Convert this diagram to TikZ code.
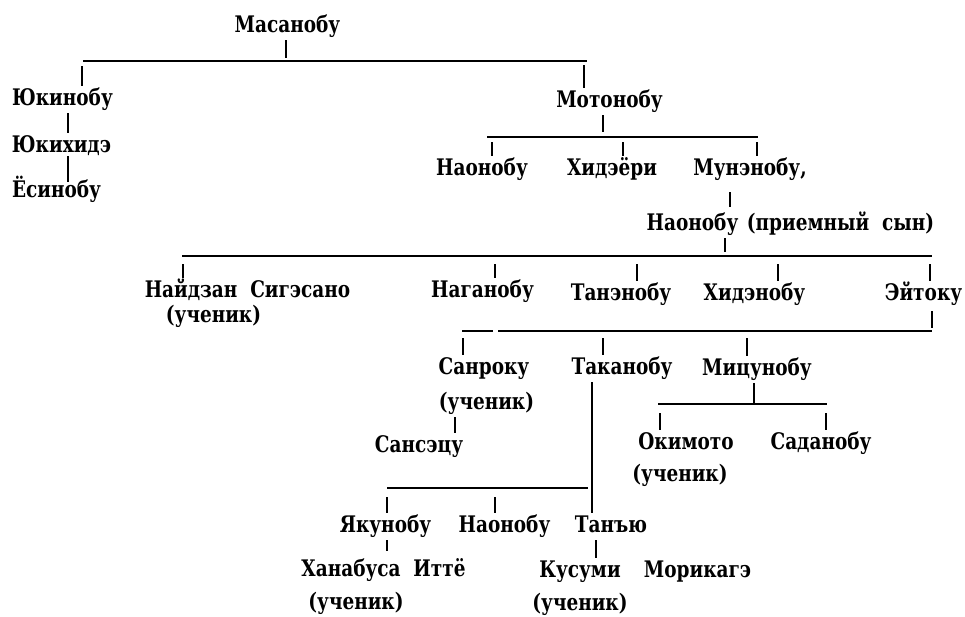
\documentclass[tikz,border=0pt]{standalone}
\usepackage{fontspec}
\setmainfont{DejaVuSerifCondensed.ttf}[BoldFont=DejaVuSerifCondensed-Bold.ttf, WordSpace=2, FakeStretch=0.9]
\begin{document}
\begin{tikzpicture}[x=1pt,y=-1pt,
  nm/.style={anchor=base, font=\bfseries\fontsize{22.8}{26}\selectfont, inner xsep=0pt, inner ysep=3pt, text height=16pt, text depth=5pt},
  ln/.style={line width=1.6pt},
  tk/.style={line width=1.3pt},
  dn/.style={tk, shorten <=7pt}]
\useasboundingbox (0,0) rectangle (965,616);
% names
\node[nm] (ma) at (287.5,32) {Масанобу};
\node[nm] (yuk) at (62.5,105) {Юкинобу};
\node[nm] (yukh) at (61.5,152) {Юкихидэ};
\node[nm] (yos) at (56.5,197) {Ёсинобу};
\node[nm] (mot) at (609.5,107) {Мотонобу};
\node[nm] (naoA) at (482,175) {Наонобу};
\node[nm] (hid) at (612,175) {Хидэёри};
\node[nm] (mun) at (750,175) {Мунэнобу,};
\node[nm] (naoB) at (692.5,230) {Наонобу};
\node[nm] (pri) at (840.5,230) {(приемный сын)};
\node[nm] (nai) at (247.5,297) {Найдзан Сигэсано};
\node[nm] (naiu) at (213.5,322) {(ученик)};
\node[nm] (nag) at (482.5,297) {Наганобу};
\node[nm] (tan) at (621,300) {Танэнобу};
\node[nm] (hidn) at (754.5,300) {Хидэнобу};
\node[nm] (eit) at (923.5,300) {Эйтоку};
\node[nm] (san) at (484,374) {Санроку};
\node[nm] (sanu) at (486.5,409) {(ученик)};
\node[nm] (sans) at (419,452) {Сансэцу};
\node[nm] (tak) at (622,374) {Таканобу};
\node[nm] (mic) at (757,375) {Мицунобу};
\node[nm] (oki) at (686,449) {Окимото};
\node[nm] (okiu) at (680,481) {(ученик)};
\node[nm] (sad) at (821,449) {Саданобу};
\node[nm] (yak) at (385.5,532) {Якунобу};
\node[nm] (naoC) at (504.5,532) {Наонобу};
\node[nm] (tany) at (611,532) {Танъю};
\node[nm] (han) at (383.5,576) {Ханабуса Иттё};
\node[nm] (hanu) at (356,609) {(ученик)};
\node[nm] (kus) at (580,577) {Кусуми};
\node[nm] (mor) at (697.5,577) {Морикагэ};
\node[nm] (kusu) at (580,610) {(ученик)};
% bars
\coordinate (b1l) at (83,61);   \coordinate (b1r) at (587,61);
\coordinate (b2l) at (487,137); \coordinate (b2r) at (758,137);
\coordinate (b3l) at (182,256); \coordinate (b3r) at (932,256);
\coordinate (b4l) at (462,331); \coordinate (b4a) at (493,331);
\coordinate (b4b) at (498,331); \coordinate (b4r) at (932,331);
\coordinate (b5l) at (658,404); \coordinate (b5r) at (827,404);
\coordinate (b6l) at (387,488); \coordinate (b6r) at (588,488);
\draw[ln] (b1l) -- (b1r);
\draw[ln] (b2l) -- (b2r);
\draw[ln] (b3l) -- (b3r);
\draw[ln] (b4l) -- (b4a);
\draw[ln] (b4b) -- (b4r);
\draw[ln] (b5l) -- (b5r);
\draw[ln] (b6l) -- (b6r);
% tick positions
\coordinate (t1) at (286,0);
\coordinate (t2) at (82,0);
\coordinate (t3) at (584,0);
\coordinate (t4) at (68,0);
\coordinate (t6) at (603,0);
\coordinate (t7) at (492,0);
\coordinate (t8) at (623,0);
\coordinate (t9) at (757,0);
\coordinate (t10) at (730,0);
\coordinate (t11) at (725,0);
\coordinate (t12) at (183,0);
\coordinate (t13) at (495,0);
\coordinate (t14) at (637,0);
\coordinate (t15) at (778,0);
\coordinate (t16) at (930,0);
\coordinate (t17) at (932,0);
\coordinate (t18) at (463,0);
\coordinate (t19) at (603,0);
\coordinate (t20) at (747,0);
\coordinate (t21) at (455,0);
\coordinate (t22) at (592,0);
\coordinate (t23) at (754,0);
\coordinate (t24) at (660,0);
\coordinate (t25) at (826,0);
\coordinate (t26) at (387,0);
\coordinate (t27) at (495,0);
\coordinate (t29) at (596,0);
% connectors
\draw[tk, shorten >=3pt] (ma.south -| t1) -- (b1l -| t1);
\draw[dn, shorten <=5pt] (b1l -| t2) -- (yuk.north -| t2);
\draw[dn, shorten <=4pt] (b1l -| t3) -- (mot.north -| t3);
\draw[tk] (yuk.south -| t4) -- (yukh.north -| t4);
\draw[tk, shorten <=-4pt, shorten >=-4pt] (yukh.south -| t4) -- (yos.north -| t4);
\draw[tk, shorten >=5pt] (mot.south -| t6) -- (b2l -| t6);
\draw[dn, shorten <=5pt] (b2l -| t7) -- (naoA.north -| t7);
\draw[dn, shorten <=5pt] (b2l -| t8) -- (hid.north -| t8);
\draw[dn, shorten <=5pt] (b2l -| t9) -- (mun.north -| t9);
\draw[tk, shorten <=9pt, shorten >=4pt] (mun.south -| t10) -- (naoB.north -| t10);
\draw[tk, shorten >=4pt] (naoB.south -| t11) -- (b3l -| t11);
\draw[dn, shorten <=8pt] (b3l -| t12) -- (nai.north -| t12);
\draw[dn, shorten <=8pt] (b3l -| t13) -- (nag.north -| t13);
\draw[dn, shorten <=8pt] (b3l -| t14) -- (tan.north -| t14);
\draw[dn, shorten <=8pt] (b3l -| t15) -- (hidn.north -| t15);
\draw[dn, shorten <=8pt] (b3l -| t16) -- (eit.north -| t16);
\draw[tk, shorten <=3pt, shorten >=3pt] (eit.south -| t17) -- (b4r);
\draw[dn] (b4l -| t18) -- (san.north -| t18);
\draw[dn] (b4l -| t19) -- (tak.north -| t19);
\draw[dn] (b4l -| t20) -- (mic.north -| t20);
\draw[tk] (sanu.south -| t21) -- (sans.north -| t21);
\draw[ln] (tak.south -| t22) -- (tany.north -| t22);
\draw[tk] (mic.south -| t23) -- (b5l -| t23);
\draw[dn, shorten <=9pt] (b5l -| t24) -- (oki.north -| t24);
\draw[dn, shorten <=9pt] (b5l -| t25) -- (sad.north -| t25);
\draw[dn, shorten <=9pt] (b6l -| t26) -- (yak.north -| t26);
\draw[dn, shorten <=9pt] (b6l -| t27) -- (naoC.north -| t27);
\draw[tk, shorten >=6pt] (yak.south -| t26) -- (han.north -| t26);
\draw[tk] (tany.south -| t29) -- (kus.north -| t29);
\end{tikzpicture}
\end{document}
